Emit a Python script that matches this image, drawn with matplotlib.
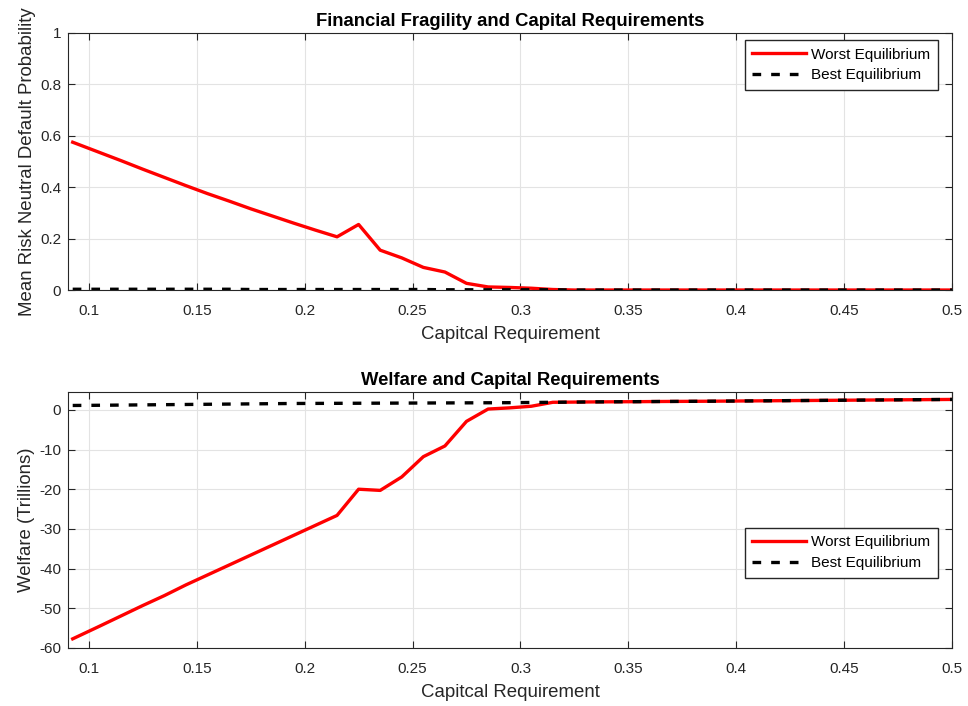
import matplotlib
matplotlib.use('Agg')
import matplotlib.pyplot as plt

plt.rcParams['font.family'] = ['Liberation Sans', 'DejaVu Sans']
plt.rcParams['axes.unicode_minus'] = False

# capital requirement grid
cap_req = [0.0925, 0.105, 0.115, 0.125, 0.135, 0.145, 0.155, 0.165, 0.175, 0.185,
           0.195, 0.205, 0.215, 0.225, 0.235, 0.245, 0.255, 0.265, 0.275, 0.285,
           0.295, 0.305, 0.315, 0.325, 0.335, 0.345, 0.355, 0.365, 0.375, 0.385,
           0.395, 0.405, 0.415, 0.425, 0.435, 0.445, 0.455, 0.465, 0.475, 0.485,
           0.495, 0.5]

# mean risk neutral default probability
pd_worst = [0.575, 0.535, 0.503, 0.470, 0.438, 0.406, 0.375, 0.346, 0.316, 0.288,
            0.260, 0.233, 0.207, 0.255, 0.155, 0.125, 0.088, 0.070, 0.026, 0.012,
            0.010, 0.007, 0.002, 0.0, 0.0, 0.0, 0.0, 0.0, 0.0, 0.0,
            0.0, 0.0, 0.0, 0.0, 0.0, 0.0, 0.0, 0.0, 0.0, 0.0,
            0.0, 0.0]
pd_best = [0.003, 0.003, 0.003, 0.003, 0.003, 0.003, 0.003, 0.003, 0.002, 0.002,
           0.002, 0.002, 0.002, 0.002, 0.002, 0.002, 0.002, 0.001, 0.001, 0.001,
           0.001, 0.001, 0.001, 0.0, 0.0, 0.0, 0.0, 0.0, 0.0, 0.0,
           0.0, 0.0, 0.0, 0.0, 0.0, 0.0, 0.0, 0.0, 0.0, 0.0,
           0.0, 0.0]

# welfare in trillions
w_best = [1.1, 1.15, 1.2, 1.25, 1.3, 1.35, 1.4, 1.45, 1.5, 1.55,
          1.6, 1.62, 1.64, 1.66, 1.68, 1.7, 1.72, 1.74, 1.76, 1.78,
          1.8, 1.85, 1.9, 1.95, 2.0, 2.03, 2.06, 2.1, 2.13, 2.16,
          2.2, 2.24, 2.28, 2.32, 2.36, 2.4, 2.44, 2.48, 2.52, 2.56,
          2.6, 2.62]
w_worst = [-57.7, -54.5, -51.9, -49.3, -46.8, -44.1, -41.6, -39.1, -36.6, -34.1,
           -31.6, -29.1, -26.6, -20.0, -20.3, -16.9, -11.8, -9.1, -2.9, 0.2,
           0.5, 0.9, 1.9, 1.95, 2.0, 2.03, 2.06, 2.1, 2.13, 2.16,
           2.2, 2.24, 2.28, 2.32, 2.36, 2.4, 2.44, 2.48, 2.52, 2.56,
           2.6, 2.62]

xticks = [0.1, 0.15, 0.2, 0.25, 0.3, 0.35, 0.4, 0.45, 0.5]
xticklabels = ['0.1', '0.15', '0.2', '0.25', '0.3', '0.35', '0.4', '0.45', '0.5']

dark = '#262626'
fig = plt.figure(figsize=(9.68, 7.06), dpi=100)
ax1 = fig.add_axes([0.0702, 0.5892, 0.9133, 0.3641])
ax2 = fig.add_axes([0.0702, 0.0822, 0.9133, 0.3626])


def style(ax):
    ax.set_xlim(0.0903, 0.5)
    ax.set_xticks(xticks)
    ax.set_xticklabels(xticklabels)
    ax.grid(True, color='#e3e3e3', linewidth=0.8)
    ax.set_axisbelow(True)
    ax.tick_params(direction='in', top=True, right=True, length=5, width=0.8,
                   colors=dark, labelsize=11)
    ax.tick_params(axis='x', pad=10)
    ax.tick_params(axis='y', pad=5)
    for s in ax.spines.values():
        s.set_color(dark)
        s.set_linewidth(0.8)
    ax.set_xlabel('Capitcal Requirement', fontsize=13.4, color=dark, labelpad=6)


def add_legend(ax, top):
    ax.legend(loc='upper right', bbox_to_anchor=(0.984, top), fontsize=11,
              fancybox=False, edgecolor=dark, framealpha=1, handlelength=3.5,
              borderpad=0.5, labelspacing=0.45, handletextpad=0.35,
              borderaxespad=0)


ax1.plot(cap_req, pd_worst, color='red', lw=2.4, label='Worst Equilibrium')
ax1.plot(cap_req, pd_best, color='black', lw=2.4, dashes=(2.6, 3.0),
         label='Best Equilibrium')
style(ax1)
ax1.set_ylim(0, 1)
ax1.set_yticks([0, 0.2, 0.4, 0.6, 0.8, 1])
ax1.set_yticklabels(['0', '0.2', '0.4', '0.6', '0.8', '1'])
ax1.set_ylabel('Mean Risk Neutral Default Probability', fontsize=13.4, color=dark,
               labelpad=3)
ax1.set_title('Financial Fragility and Capital Requirements', fontsize=13.3,
              fontweight='bold', pad=5)
add_legend(ax1, 0.973)

ax2.plot(cap_req, w_worst, color='red', lw=2.4, label='Worst Equilibrium')
ax2.plot(cap_req, w_best, color='black', lw=2.4, dashes=(2.6, 3.0),
         label='Best Equilibrium')
style(ax2)
ax2.set_ylim(-60, 4.5)
ax2.set_yticks([-60, -50, -40, -30, -20, -10, 0])
ax2.set_ylabel('Welfare (Trillions)', fontsize=13.4, color=dark, labelpad=3)
ax2.set_title('Welfare and Capital Requirements', fontsize=13.3,
              fontweight='bold', pad=5)
add_legend(ax2, 0.47)

fig.savefig('out.png', dpi=100)
